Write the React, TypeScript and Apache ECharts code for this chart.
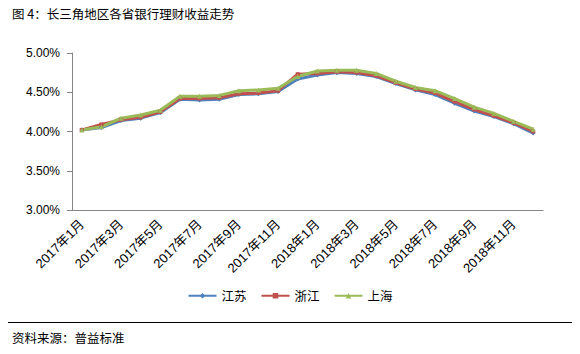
import React, { useEffect, useRef } from "react";
import * as echarts from "echarts";

const months: string[] = [
  "2017年1月", "2017年2月", "2017年3月", "2017年4月", "2017年5月", "2017年6月",
  "2017年7月", "2017年8月", "2017年9月", "2017年10月", "2017年11月", "2017年12月",
  "2018年1月", "2018年2月", "2018年3月", "2018年4月", "2018年5月", "2018年6月",
  "2018年7月", "2018年8月", "2018年9月", "2018年10月", "2018年11月", "2018年12月",
];

const jiangsu: number[] = [
  4.02, 4.05, 4.14, 4.17, 4.24, 4.41, 4.40, 4.41, 4.47, 4.48, 4.51, 4.67,
  4.72, 4.75, 4.74, 4.70, 4.61, 4.53, 4.47, 4.36, 4.26, 4.19, 4.10, 3.98,
];
const zhejiang: number[] = [
  4.02, 4.09, 4.15, 4.18, 4.25, 4.42, 4.42, 4.43, 4.48, 4.49, 4.52, 4.73,
  4.74, 4.76, 4.75, 4.71, 4.62, 4.54, 4.49, 4.38, 4.28, 4.20, 4.11, 4.00,
];
const shanghai: number[] = [
  4.02, 4.06, 4.17, 4.21, 4.27, 4.45, 4.45, 4.46, 4.52, 4.53, 4.55, 4.70,
  4.77, 4.78, 4.78, 4.74, 4.64, 4.56, 4.52, 4.42, 4.31, 4.23, 4.13, 4.03,
];

const titleText = "图 4：长三角地区各省银行理财收益走势";
const sourceText = "资料来源：普益标准";

const BLUE = "#4F81BD";
const RED = "#C0504D";
const GREEN = "#9BBB59";

export default function App() {
  const ref = useRef<HTMLDivElement>(null);
  useEffect(() => {
    if (!ref.current) return;
    const chart = echarts.init(ref.current, null, { renderer: "svg" });
    const mk = (name: string, data: number[], color: string, symbol: string, size: number) => ({
      name,
      type: "line",
      data,
      symbol,
      symbolSize: size,
      showSymbol: true,
      lineStyle: { color, width: 3 },
      itemStyle: { color },
      emphasis: { disabled: true },
    });
    chart.setOption({
      animation: false,
      backgroundColor: "#ffffff",
      textStyle: { fontFamily: "'Liberation Sans', 'Noto Sans CJK SC', sans-serif" },
      grid: { left: 72, right: 37, top: 53, bottom: 144, containLabel: false },
      graphic: [
        {
          type: "text",
          left: 12,
          top: 7,
          style: { text: titleText, font: "12.5px 'Noto Sans CJK SC'", fill: "#000" },
        },
        {
          type: "text",
          left: 12,
          top: 331,
          style: { text: sourceText, font: "12.5px 'Noto Sans CJK SC'", fill: "#000" },
        },
        {
          type: "line",
          shape: { x1: 4, y1: 322.5, x2: 574, y2: 322.5 },
          style: { stroke: "#000", lineWidth: 1 },
        },
      ],
      legend: {
        bottom: 47,
        left: "center",
        itemWidth: 28,
        itemHeight: 7,
        itemGap: 14,
        textStyle: { fontSize: 12.5, color: "#000", fontFamily: "'Noto Sans CJK SC'" },
        data: ["江苏", "浙江", "上海"],
      },
      xAxis: {
        type: "category",
        data: months,
        boundaryGap: true,
        axisLine: { lineStyle: { color: "#868686", width: 1 } },
        axisTick: { interval: 1, length: 5, lineStyle: { color: "#868686" } },
        axisLabel: {
          interval: 1,
          rotate: 45,
          margin: 12,
          fontSize: 13,
          color: "#000",
          fontFamily: "'Liberation Sans', 'Noto Sans CJK SC'",
        },
      },
      yAxis: {
        type: "value",
        min: 3,
        max: 5,
        interval: 0.5,
        splitLine: { show: false },
        axisLine: { show: true, lineStyle: { color: "#868686" } },
        axisTick: { show: true, length: 5, lineStyle: { color: "#868686" } },
        axisLabel: {
          fontSize: 12,
          color: "#000",
          margin: 12,
          formatter: (v: number) => v.toFixed(2) + "%",
        },
      },
      series: [
        mk("江苏", jiangsu, BLUE, "diamond", 5),
        mk("浙江", zhejiang, RED, "rect", 4),
        mk("上海", shanghai, GREEN, "triangle", 5),
      ],
    });
    return () => chart.dispose();
  }, []);
  return <div ref={ref} style={{ width: 580, height: 354, margin: -8 }} />;
}
